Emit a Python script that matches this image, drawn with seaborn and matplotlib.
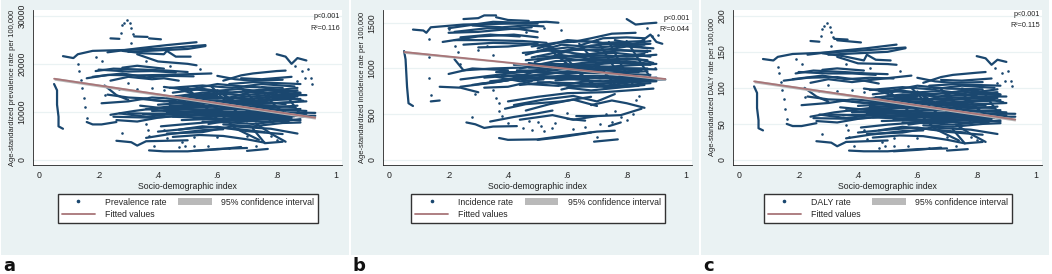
import matplotlib
matplotlib.use("Agg")
import matplotlib.pyplot as plt
from matplotlib.lines import Line2D
from matplotlib.patches import Patch, Rectangle
import pandas as pd
import seaborn as sns

NAVY = "#1a476f"
ROSE = "#a87578"
GREY = "#b9b9b9"
PANEL_BG = "#eaf2f3"
W, H = 1052, 274

x_ticks = [0, .2, .4, .6, .8, 1]
x_tick_labels = ["0", ".2", ".4", ".6", ".8", "1"]

# tracks (SDI, prevalence rate)
tracks_a = [
    [(.05, 15800), (.06, 14500), (.06, 11500), (.065, 9000), (.065, 7000), (.08, 6500)],
    [(.08, 21600), (.115, 21200), (.13, 22000), (.18, 22700), (.3, 22900), (.42, 23200), (.56, 23900)],
    [(.23, 22400), (.33, 23200), (.43, 23900), (.53, 24500)],
    [(.24, 25300), (.27, 25200)],
    [(.32, 25700), (.365, 25600)],
    [(.37, 25300), (.41, 25100)],
    [(.28, 22700), (.35, 22200), (.42, 22000), (.43, 22700), (.46, 21500), (.51, 21500)],
    [(.33, 22000), (.4, 20500), (.5, 20000), (.53, 19700)],
    [(.16, 7900), (.18, 7400), (.21, 7400), (.26, 7900)],
    [(.19, 18500), (.25, 19000), (.35, 18800), (.43, 18600), (.5, 18300)],
    [(.16, 17000), (.23, 17700), (.33, 17600), (.42, 17700), (.58, 18000)],
    [(.24, 16500), (.3, 17300), (.38, 16800), (.42, 17000), (.47, 16500)],
    [(.22, 15500), (.26, 13500), (.3, 12500)],
    [(.21, 11800), (.3, 12200), (.38, 13000), (.46, 12700), (.6, 13500)],
    [(.24, 9400), (.32, 10200), (.42, 11000), (.5, 11500), (.62, 12000), (.75, 12500), (.86, 13000)],
    [(.25, 9000), (.38, 8800), (.48, 9200), (.6, 9600), (.72, 9800), (.9, 9000)],
    [(.26, 8300), (.33, 8000), (.4, 8800), (.55, 9700), (.7, 9200), (.85, 8800)],
    [(.26, 4000), (.31, 3700), (.33, 3000), (.36, 3900), (.5, 4100)],
    [(.36, 4600), (.44, 5400), (.55, 6200), (.62, 6400)],
    [(.37, 2000), (.42, 1800), (.5, 1800), (.6, 2300), (.7, 2500)],
    [(.52, 1900), (.6, 2200), (.68, 2700)],
    [(.7, 1900), (.77, 2300)],
    [(.43, 5500), (.55, 5800), (.65, 7000), (.78, 6500), (.87, 5500)],
    [(.41, 7000), (.5, 7500), (.6, 8000), (.72, 7500), (.88, 8500)],
    [(.8, 22000), (.83, 21500), (.85, 20000), (.87, 21200), (.9, 20700)],
    [(.62, 16500), (.68, 17600), (.72, 18000), (.8, 18500), (.83, 18600)],
    [(.68, 17000), (.75, 16800), (.85, 17300)],
    [(.44, 15000), (.55, 15500), (.65, 15000), (.75, 15800), (.86, 15300)],
    [(.45, 14000), (.55, 14800), (.65, 14000), (.78, 14800), (.88, 14000)],
    [(.43, 13000), (.55, 14000), (.68, 13500), (.8, 14000), (.88, 13800)],
    [(.47, 12500), (.58, 13000), (.7, 12700), (.82, 13200), (.89, 12300)],
    [(.4, 11500), (.52, 12000), (.65, 11800), (.78, 11800), (.9, 12200)],
    [(.42, 10300), (.54, 11000), (.66, 11200), (.8, 11000), (.87, 11300)],
    [(.38, 10200), (.5, 10500), (.62, 10600), (.75, 10400), (.88, 10600)],
    [(.35, 9500), (.5, 9800), (.6, 10000), (.74, 10000), (.93, 9800)],
    [(.45, 9000), (.58, 8700), (.7, 8300), (.82, 9200), (.93, 9200)],
    [(.55, 8000), (.65, 7800), (.75, 8500), (.85, 8500)],
    [(.47, 6300), (.55, 7000), (.66, 6500), (.76, 5800)],
    [(.5, 15000), (.56, 11000), (.6, 8500)],
    [(.58, 15300), (.64, 11500), (.7, 8000)],
    [(.68, 15000), (.74, 11500), (.78, 8000)],
    [(.72, 6500), (.76, 3500), (.82, 3800)],
    [(.52, 11000), (.6, 14500), (.7, 10500), (.8, 13800)],
    # denser part of the cloud
    [(.42, 15200), (.5, 14600), (.6, 15800), (.7, 15200), (.82, 15000)],
    [(.48, 15000), (.58, 14300), (.68, 14800), (.77, 14000), (.87, 14500)],
    [(.5, 13500), (.6, 13800), (.7, 14300), (.8, 13500), (.9, 13500)],
    [(.46, 13300), (.56, 12700), (.66, 13000), (.76, 13400), (.85, 12800)],
    [(.5, 12300), (.6, 12400), (.72, 12000), (.8, 12500), (.88, 12700)],
    [(.38, 12500), (.5, 11800), (.6, 12300), (.7, 11500), (.85, 12000)],
    [(.44, 11300), (.55, 11300), (.65, 10900), (.76, 11300), (.86, 11000)],
    [(.46, 10800), (.56, 10300), (.7, 10700), (.8, 10500), (.9, 10200)],
    [(.36, 10600), (.46, 10000), (.58, 9900), (.7, 9500), (.84, 9800)],
    [(.3, 9700), (.42, 9600), (.56, 9200), (.68, 9000), (.8, 9500)],
    [(.5, 9000), (.6, 8300), (.72, 8800), (.84, 8000)],
    [(.56, 9400), (.66, 8900), (.76, 9200), (.88, 9500)],
    [(.62, 7400), (.72, 7000), (.82, 7700), (.88, 7800)],
    [(.48, 8300), (.56, 8500), (.66, 8200), (.78, 8000)],
    [(.4, 5900), (.5, 6500), (.6, 6900), (.7, 6000), (.82, 5400)],
    [(.45, 4800), (.54, 5200), (.62, 5000), (.7, 4300), (.76, 3600)],
    [(.73, 7600), (.78, 5500), (.83, 3800)],
    [(.62, 9000), (.66, 6600), (.74, 4200)],
    [(.55, 12500), (.62, 10000), (.68, 8200)],
    [(.62, 13500), (.68, 11000), (.74, 9200)],
    [(.76, 13500), (.8, 11000), (.84, 9000)],
    [(.82, 14800), (.85, 12000), (.88, 9500)],
    [(.2, 18800), (.3, 18400), (.38, 18500), (.46, 18200)],
    [(.18, 17300), (.28, 18000), (.36, 17200), (.44, 17500), (.52, 17400)],
    [(.3, 22500), (.4, 22800), (.5, 23100), (.56, 23700)],
    [(.28, 19200), (.33, 19600), (.42, 19000)],
    [(.33, 12800), (.42, 12200), (.5, 12800)],
    [(.23, 13600), (.3, 13000), (.36, 12800)],
    [(.27, 9700), (.36, 9000), (.44, 9500)],
    [(.6, 17500), (.66, 16800), (.72, 16500), (.82, 16700)],
    [(.64, 15800), (.72, 16200), (.8, 16000), (.88, 15800)],
    [(.47, 14800), (.54, 13300), (.63, 12800), (.74, 14600), (.84, 14200)],
    [(.49, 12900), (.57, 13600), (.66, 12300), (.75, 13000), (.87, 13200)],
    [(.44, 12000), (.53, 12500), (.63, 11200), (.73, 12200), (.83, 11600)],
    [(.41, 10800), (.51, 11100), (.61, 11500), (.72, 11000), (.83, 10300)],
    [(.43, 9900), (.53, 10200), (.64, 9700), (.76, 9700), (.9, 9600)],
    [(.52, 8700), (.62, 9200), (.73, 8500), (.86, 9100)],
    [(.57, 7500), (.67, 8500), (.78, 8800), (.88, 8200)],
    [(.34, 11300), (.44, 10600), (.5, 11000)],
    [(.75, 15200), (.8, 14500), (.87, 15000)],
]
dots_a = [(.28, 28000), (.285, 28600), (.295, 29200), (.305, 28400), (.31, 27400), (.31, 24300),
          (.275, 26500), (.315, 26300), (.13, 20000), (.135, 18500), (.14, 16700), (.145, 15000), (.15, 13000),
          (.155, 11000), (.16, 8800), (.19, 21500), (.21, 20500), (.22, 13500), (.28, 5600), (.36, 7500),
          (.365, 6300), (.37, 5000), (.385, 3000), (.42, 6300), (.43, 4500), (.47, 2700), (.48, 3800),
          (.49, 3000), (.52, 2900), (.52, 4800), (.57, 3000), (.6, 4700), (.64, 2600), (.7, 4900), (.73, 2900),
          (.78, 5000), (.8, 4200), (.885, 18500), (.895, 17000), (.905, 19000), (.915, 17000), (.92, 15800),
          (.87, 16500), (.86, 19500), (.33, 14700), (.3, 16000), (.36, 20500), (.38, 15000), (.44, 19500),
          (.27, 14800), (.54, 19000), (.42, 14500)]
fit_x_a = [.05, .93]
fit_y_a = [16900, 8800]
ci_low_a = [16600, 8500]
ci_high_a = [17200, 9100]

# panel b (SDI, incidence rate)
tracks_b = [
    [(.05, 1190), (.055, 1100), (.06, 800), (.065, 620), (.08, 590)],
    [(.08, 1425), (.115, 1415), (.125, 1390), (.14, 1450), (.25, 1480), (.4, 1490), (.5, 1490)],
    [(.2, 1440), (.35, 1510), (.44, 1500), (.53, 1510), (.57, 1500)],
    [(.25, 1540), (.3, 1550), (.32, 1580), (.36, 1580)],
    [(.36, 1560), (.4, 1530), (.47, 1520)],
    [(.22, 1400), (.33, 1440), (.44, 1430), (.5, 1400)],
    [(.18, 1290), (.3, 1350), (.42, 1370), (.5, 1340)],
    [(.22, 1310), (.32, 1310), (.45, 1300), (.53, 1280)],
    [(.25, 1260), (.35, 1280), (.47, 1270), (.55, 1230)],
    [(.22, 1100), (.25, 980), (.35, 1000), (.45, 1010), (.6, 1050)],
    [(.2, 940), (.28, 1000), (.4, 980)],
    [(.17, 800), (.24, 790), (.3, 740)],
    [(.24, 800), (.36, 850), (.5, 930), (.6, 970), (.75, 1000), (.87, 1000)],
    [(.3, 830), (.42, 880), (.55, 900), (.7, 900), (.88, 880)],
    [(.28, 820), (.4, 870), (.52, 1000), (.65, 1060), (.8, 1080), (.88, 1050)],
    [(.14, 640), (.17, 650)],
    [(.26, 410), (.29, 390), (.32, 350), (.35, 365), (.43, 370)],
    [(.34, 420), (.42, 470), (.5, 510), (.55, 540)],
    [(.39, 560), (.46, 610), (.58, 640), (.68, 690)],
    [(.4, 640), (.5, 690), (.6, 730), (.72, 740), (.89, 780)],
    [(.37, 240), (.4, 220), (.5, 225), (.58, 260), (.7, 310), (.76, 320)],
    [(.5, 220), (.58, 250), (.68, 300)],
    [(.69, 200), (.77, 225)],
    [(.6, 450), (.66, 430)],
    [(.63, 480), (.7, 480), (.78, 490), (.85, 560)],
    [(.68, 600), (.75, 650), (.8, 620), (.86, 570)],
    [(.74, 370), (.78, 410)],
    [(.8, 1540), (.83, 1480), (.86, 1490), (.9, 1500)],
    [(.62, 1290), (.68, 1330), (.75, 1380), (.83, 1390)],
    [(.85, 1300), (.88, 1370), (.9, 1290), (.92, 1270)],
    [(.5, 1220), (.6, 1310), (.72, 1280), (.86, 1300)],
    [(.46, 1150), (.58, 1260), (.7, 1230), (.88, 1270)],
    [(.48, 1120), (.6, 1200), (.72, 1210), (.87, 1180)],
    [(.52, 1100), (.64, 1150), (.76, 1170), (.88, 1130)],
    [(.44, 1000), (.56, 1080), (.7, 1100), (.84, 1100), (.89, 1060)],
    [(.5, 980), (.62, 1030), (.74, 1020), (.9, 1050)],
    [(.4, 950), (.55, 1000), (.67, 1000), (.85, 980)],
    [(.42, 900), (.56, 950), (.7, 950), (.88, 930)],
    [(.56, 870), (.68, 900), (.8, 880), (.93, 880)],
    [(.58, 820), (.7, 800), (.82, 850), (.9, 860)],
    [(.55, 1180), (.6, 1050), (.66, 900), (.7, 800)],
    [(.64, 1270), (.7, 1050), (.76, 830)],
    [(.74, 1290), (.78, 1050), (.82, 830)],
    # denser part of the cloud
    [(.48, 1240), (.56, 1280), (.66, 1300), (.76, 1260), (.86, 1260)],
    [(.5, 1190), (.6, 1230), (.7, 1190), (.8, 1240), (.89, 1220)],
    [(.45, 1170), (.55, 1200), (.66, 1150), (.78, 1200), (.88, 1190)],
    [(.5, 1130), (.6, 1130), (.72, 1140), (.82, 1130), (.9, 1150)],
    [(.46, 1090), (.56, 1120), (.68, 1080), (.8, 1110), (.87, 1090)],
    [(.42, 1040), (.54, 1050), (.66, 1040), (.76, 1060), (.88, 1040)],
    [(.47, 1010), (.58, 1000), (.68, 1020), (.8, 1000), (.9, 990)],
    [(.36, 960), (.48, 960), (.6, 950), (.72, 980), (.84, 960)],
    [(.32, 900), (.44, 930), (.56, 910), (.7, 920), (.86, 900)],
    [(.34, 860), (.46, 900), (.58, 890), (.72, 860), (.9, 900)],
    [(.5, 850), (.62, 840), (.72, 830), (.84, 880)],
    [(.44, 820), (.54, 850), (.62, 800), (.76, 810), (.88, 840)],
    [(.6, 790), (.68, 760), (.8, 800), (.86, 820)],
    [(.42, 600), (.52, 660), (.62, 700), (.7, 640), (.76, 720)],
    [(.46, 540), (.54, 610), (.62, 660), (.7, 590)],
    [(.44, 440), (.55, 490), (.62, 440), (.7, 480)],
    [(.54, 1240), (.6, 1100), (.64, 960), (.68, 840)],
    [(.7, 1310), (.74, 1100), (.78, 910)],
    [(.8, 1300), (.84, 1100), (.88, 900)],
    [(.2, 1390), (.3, 1400), (.4, 1430), (.48, 1450)],
    [(.28, 1470), (.38, 1450), (.46, 1470), (.52, 1460)],
    [(.24, 1340), (.34, 1370), (.44, 1350)],
    [(.3, 1230), (.4, 1240), (.5, 1270)],
    [(.24, 880), (.34, 920), (.44, 960)],
    [(.32, 790), (.4, 800), (.48, 860)],
    [(.64, 1250), (.72, 1330), (.8, 1340), (.86, 1330)],
    [(.52, 1210), (.58, 1170), (.68, 1250), (.78, 1280), (.87, 1220)],
    [(.49, 1070), (.57, 1150), (.67, 1110), (.77, 1130), (.86, 1160)],
    [(.47, 1060), (.55, 1020), (.65, 980), (.75, 1090), (.85, 1040)],
    [(.43, 980), (.53, 970), (.63, 1010), (.73, 950), (.87, 970)],
    [(.38, 920), (.5, 890), (.6, 930), (.71, 890), (.83, 920)],
    [(.47, 830), (.57, 810), (.66, 860), (.78, 850), (.9, 880)],
    [(.58, 770), (.66, 830), (.74, 790), (.84, 810)],
    [(.36, 910), (.44, 860), (.52, 880)],
    [(.76, 1310), (.82, 1270), (.88, 1300)],
]
dots_b = [(.135, 1320), (.135, 1130), (.135, 900), (.14, 710), (.2, 1430), (.22, 1250), (.23, 1180), (.24, 1050),
          (.28, 470), (.29, 720), (.3, 1200), (.33, 1250), (.35, 1150), (.35, 760), (.36, 680), (.37, 620),
          (.37, 540), (.38, 480), (.4, 400), (.45, 350), (.47, 430), (.48, 330), (.5, 420), (.51, 370),
          (.52, 320), (.55, 350), (.56, 400), (.6, 510), (.62, 340), (.66, 360), (.7, 250), (.71, 390),
          (.73, 500), (.75, 420), (.76, 540), (.78, 470), (.8, 440), (.82, 500), (.83, 660), (.84, 700),
          (.87, 1440), (.885, 1350), (.905, 1370), (.9, 900), (.895, 1010), (.58, 1420), (.52, 1440), (.46, 1400)]
fit_x_b = [.05, .37, .93]
fit_y_b = [1180, 1075, 885]
ci_low_b = [1165, 1067, 872]
ci_high_b = [1195, 1083, 898]

# panel c (SDI, DALY rate)
tracks_c = [
    [(.05, 102), (.06, 93), (.06, 72), (.065, 55), (.065, 44), (.08, 41)],
    [(.08, 140), (.115, 138), (.13, 143), (.18, 147), (.3, 149), (.42, 152), (.56, 156)],
    [(.23, 146), (.33, 151), (.43, 155), (.53, 160)],
    [(.24, 165), (.27, 164)],
    [(.32, 168), (.365, 167)],
    [(.33, 166), (.41, 163)],
    [(.28, 148), (.35, 144), (.42, 138), (.43, 146), (.46, 139), (.51, 138)],
    [(.33, 143), (.4, 134), (.5, 133), (.53, 132)],
    [(.16, 50), (.18, 47), (.21, 47), (.26, 51)],
    [(.19, 120), (.25, 124), (.35, 122), (.43, 120), (.5, 119)],
    [(.15, 110), (.23, 114), (.33, 115), (.42, 110), (.58, 117)],
    [(.24, 107), (.3, 112), (.38, 108), (.42, 110), (.47, 106)],
    [(.22, 100), (.26, 88), (.3, 81)],
    [(.21, 76), (.3, 79), (.38, 84), (.46, 82), (.6, 88)],
    [(.24, 60), (.32, 66), (.42, 71), (.5, 75), (.62, 78), (.75, 81), (.86, 84)],
    [(.25, 58), (.38, 57), (.48, 60), (.6, 62), (.72, 64), (.9, 58)],
    [(.26, 54), (.33, 52), (.4, 57), (.55, 63), (.7, 60), (.85, 57)],
    [(.26, 26), (.31, 24), (.33, 19), (.36, 25), (.5, 27)],
    [(.36, 30), (.44, 35), (.55, 40), (.62, 41)],
    [(.37, 13), (.42, 12), (.5, 12), (.6, 15), (.7, 16)],
    [(.52, 12), (.6, 14), (.68, 17)],
    [(.7, 13), (.77, 15)],
    [(.43, 36), (.55, 38), (.65, 45), (.78, 42), (.87, 36)],
    [(.41, 45), (.5, 49), (.6, 52), (.72, 49), (.88, 55)],
    [(.8, 144), (.83, 141), (.85, 132), (.87, 139), (.9, 136)],
    [(.62, 107), (.68, 115), (.72, 118), (.8, 121), (.83, 122)],
    [(.68, 111), (.75, 110), (.85, 113)],
    [(.44, 97), (.55, 101), (.65, 98), (.75, 103), (.86, 100)],
    [(.45, 91), (.55, 96), (.65, 91), (.78, 97), (.88, 91)],
    [(.43, 85), (.55, 91), (.68, 88), (.8, 91), (.88, 90)],
    [(.47, 81), (.58, 85), (.7, 83), (.82, 86), (.89, 80)],
    [(.4, 75), (.52, 78), (.65, 77), (.78, 77), (.9, 79)],
    [(.42, 67), (.54, 72), (.66, 73), (.8, 72), (.87, 74)],
    [(.38, 66), (.5, 68), (.62, 69), (.75, 68), (.88, 69)],
    [(.35, 62), (.5, 64), (.6, 65), (.74, 65), (.93, 64)],
    [(.45, 59), (.58, 57), (.7, 54), (.82, 60), (.93, 60)],
    [(.55, 52), (.65, 51), (.75, 55), (.85, 55)],
    [(.47, 41), (.55, 46), (.66, 42), (.76, 38)],
    [(.5, 98), (.56, 72), (.6, 55)],
    [(.58, 100), (.64, 75), (.7, 52)],
    [(.68, 98), (.74, 75), (.78, 52)],
    [(.72, 42), (.76, 23), (.82, 25)],
    [(.52, 72), (.6, 95), (.7, 68), (.8, 90)],
    # denser part of the cloud
    [(.42, 99), (.5, 95), (.6, 103), (.7, 99), (.82, 98)],
    [(.48, 98), (.58, 93), (.68, 96), (.77, 91), (.87, 94)],
    [(.5, 88), (.6, 90), (.7, 93), (.8, 88), (.9, 88)],
    [(.46, 87), (.56, 83), (.66, 85), (.76, 87), (.85, 83)],
    [(.5, 80), (.6, 81), (.72, 78), (.8, 81), (.88, 83)],
    [(.38, 81), (.5, 77), (.6, 80), (.7, 75), (.85, 78)],
    [(.44, 74), (.55, 74), (.65, 71), (.76, 74), (.86, 72)],
    [(.46, 70), (.56, 67), (.7, 70), (.8, 68), (.9, 66)],
    [(.36, 69), (.46, 65), (.58, 64), (.7, 62), (.84, 64)],
    [(.3, 63), (.42, 62), (.56, 60), (.68, 59), (.8, 62)],
    [(.5, 59), (.6, 54), (.72, 57), (.84, 52)],
    [(.56, 61), (.66, 58), (.76, 60), (.88, 62)],
    [(.62, 48), (.72, 46), (.82, 50), (.88, 51)],
    [(.48, 54), (.56, 55), (.66, 53), (.78, 52)],
    [(.4, 38), (.5, 42), (.6, 45), (.7, 39), (.82, 35)],
    [(.45, 31), (.54, 34), (.62, 33), (.7, 28), (.76, 23)],
    [(.73, 49), (.78, 36), (.83, 25)],
    [(.62, 59), (.66, 43), (.74, 27)],
    [(.55, 81), (.62, 65), (.68, 53)],
    [(.62, 88), (.68, 72), (.74, 60)],
    [(.76, 88), (.8, 72), (.84, 59)],
    [(.82, 96), (.85, 78), (.88, 62)],
    [(.2, 122), (.3, 120), (.38, 120), (.46, 118)],
    [(.18, 112), (.28, 117), (.36, 112), (.44, 114), (.52, 113)],
    [(.3, 146), (.4, 148), (.5, 150), (.56, 155)],
    [(.28, 125), (.33, 127), (.42, 124)],
    [(.33, 83), (.42, 79), (.5, 83)],
    [(.23, 88), (.3, 84), (.36, 83)],
    [(.27, 63), (.36, 58), (.44, 62)],
    [(.6, 114), (.66, 109), (.72, 107), (.82, 108)],
    [(.64, 103), (.72, 105), (.8, 104), (.88, 103)],
    [(.47, 96), (.54, 86), (.63, 83), (.74, 95), (.84, 92)],
    [(.49, 84), (.57, 88), (.66, 80), (.75, 85), (.87, 86)],
    [(.44, 78), (.53, 81), (.63, 73), (.73, 79), (.83, 75)],
    [(.41, 70), (.51, 72), (.61, 75), (.72, 71), (.83, 67)],
    [(.43, 64), (.53, 66), (.64, 63), (.76, 63), (.9, 62)],
    [(.52, 56), (.62, 60), (.73, 55), (.86, 59)],
    [(.57, 49), (.67, 55), (.78, 57), (.88, 53)],
    [(.34, 73), (.44, 69), (.5, 71)],
    [(.75, 99), (.8, 94), (.87, 98)],
]
dots_c = [(.28, 181), (.285, 186), (.295, 190), (.305, 184), (.31, 177), (.31, 158),
          (.275, 172), (.315, 171), (.13, 129), (.135, 120), (.14, 108), (.145, 97), (.15, 84),
          (.155, 71), (.16, 57), (.19, 140), (.21, 133), (.22, 88), (.28, 36), (.36, 49),
          (.365, 41), (.37, 32), (.385, 19), (.42, 41), (.43, 29), (.47, 17), (.48, 25),
          (.49, 19), (.52, 19), (.52, 31), (.57, 19), (.6, 31), (.64, 17), (.7, 32), (.73, 19),
          (.78, 32), (.8, 27), (.885, 120), (.895, 110), (.905, 124), (.915, 110), (.92, 103),
          (.87, 107), (.86, 127), (.33, 95), (.3, 104), (.36, 133), (.38, 97), (.44, 127),
          (.27, 96), (.54, 123), (.42, 94)]
fit_x_c = [.05, .93]
fit_y_c = [109, 56]
ci_low_c = [107, 54]
ci_high_c = [111, 58]


def draw_panel(fig, offset, tracks, dots, fit, y_ticks, y_lim, ylabel, series, stats, stats_y, letter):
    # all the pixel boxes are relative to the left edge of the panel
    fig.add_artist(Rectangle(((offset + 1) / W, 1 - 255 / H), 347.5 / W, 255 / H, transform=fig.transFigure,
                             facecolor=PANEL_BG, edgecolor="none", zorder=-5))

    ax = fig.add_axes([(offset + 33) / W, 1 - 165 / H, 309 / W, 155 / H])
    ax.set_facecolor("white")

    rows = [(i, x, y) for i, t in enumerate(tracks) for x, y in t]
    df = pd.DataFrame(rows, columns=["track", "sdi", "rate"])
    sns.lineplot(data=df, x="sdi", y="rate", units="track", estimator=None, sort=False,
                 color=NAVY, linewidth=1.6, ax=ax, legend=False, zorder=3)
    dot_df = pd.DataFrame(dots, columns=["sdi", "rate"])
    sns.scatterplot(data=dot_df, x="sdi", y="rate", color=NAVY, s=3.5, linewidth=0, ax=ax, legend=False, zorder=3)

    fit_x, fit_y, ci_low, ci_high = fit
    ax.fill_between(fit_x, ci_low, ci_high, color=GREY, linewidth=0, zorder=4)
    sns.lineplot(x=fit_x, y=fit_y, color=ROSE, linewidth=1.3, ax=ax, legend=False, zorder=5)

    ax.set_xlim(-0.021, 1.02)
    ax.set_ylim(*y_lim)
    ax.set_xticks(x_ticks)
    ax.set_xticklabels(x_tick_labels)
    ax.set_yticks(y_ticks)
    ax.set_yticklabels([str(v) for v in y_ticks], rotation=90, va="center")
    ax.grid(axis="y", color=PANEL_BG, linewidth=0.9)
    ax.grid(axis="x", visible=False)
    ax.set_axisbelow(True)
    ax.tick_params(axis="both", labelsize=6.3, length=3, width=0.6, color="#222222", labelcolor="#222222", pad=1.5)
    ax.set_xlabel("Socio-demographic index", fontsize=6.3, labelpad=1, color="#222222")
    ax.set_ylabel(ylabel, fontsize=5.4, labelpad=1.5, color="#222222")
    for side in ["top", "right"]:
        ax.spines[side].set_visible(False)
    for side in ["left", "bottom"]:
        ax.spines[side].set_linewidth(0.6)
        ax.spines[side].set_color("#222222")

    for txt, y_px in zip(stats, stats_y):
        fig.text((offset + 340) / W, 1 - y_px / H, txt, fontsize=5.2, ha="right", va="center", color="#222222")

    handles = [
        Line2D([], [], marker="o", markersize=1.6, color=NAVY, linestyle="none"),
        Line2D([], [], color=ROSE, linewidth=1.3),
        Patch(facecolor=GREY, edgecolor="none"),
    ]
    labels = [series, "Fitted values", "95% confidence interval"]
    fig.legend(handles, labels, ncol=2, loc="center", bbox_to_anchor=((offset + 188) / W, 1 - 208.5 / H),
               fontsize=6.3, frameon=True, fancybox=False, framealpha=1, facecolor="white", edgecolor="#333333",
               handlelength=3.8, columnspacing=1.4, labelspacing=0.45, borderpad=0.45, handletextpad=1.1)

    fig.text((offset + 3) / W, 1 - 266 / H, letter, fontsize=13, fontweight="bold", ha="left", va="center",
             family="DejaVu Sans", color="#111111")
    return ax


def main():
    sns.set_theme(style="white")
    plt.rcParams["font.family"] = ["Liberation Sans", "DejaVu Sans"]

    fig = plt.figure(figsize=(W / 100, H / 100), dpi=100, facecolor="white")

    draw_panel(fig, 0, tracks_a, dots_a, (fit_x_a, fit_y_a, ci_low_a, ci_high_a),
               [0, 10000, 20000, 30000], (-1040, 31200),
               "Age-standardized prevalence rate per 100,000", "Prevalence rate",
               ["p<0.001", "R²=0.116"], [17, 28], "a")
    draw_panel(fig, 350, tracks_b, dots_b, (fit_x_b, fit_y_b, ci_low_b, ci_high_b),
               [0, 500, 1000, 1500], (-55, 1639),
               "Age-standardized incidence rate per 100,000", "Incidence rate",
               ["p<0.001", "R²=0.044"], [18, 29.5], "b")
    draw_panel(fig, 700, tracks_c, dots_c, (fit_x_c, fit_y_c, ci_low_c, ci_high_c),
               [0, 50, 100, 150, 200], (-7, 208),
               "Age-standardized DALY rate per 100,000", "DALY rate",
               ["p<0.001", "R²=0.115"], [15, 25.5], "c")

    fig.savefig("out.png", dpi=100, facecolor="white")
    print("Saved: out.png")


if __name__ == "__main__":
    main()
